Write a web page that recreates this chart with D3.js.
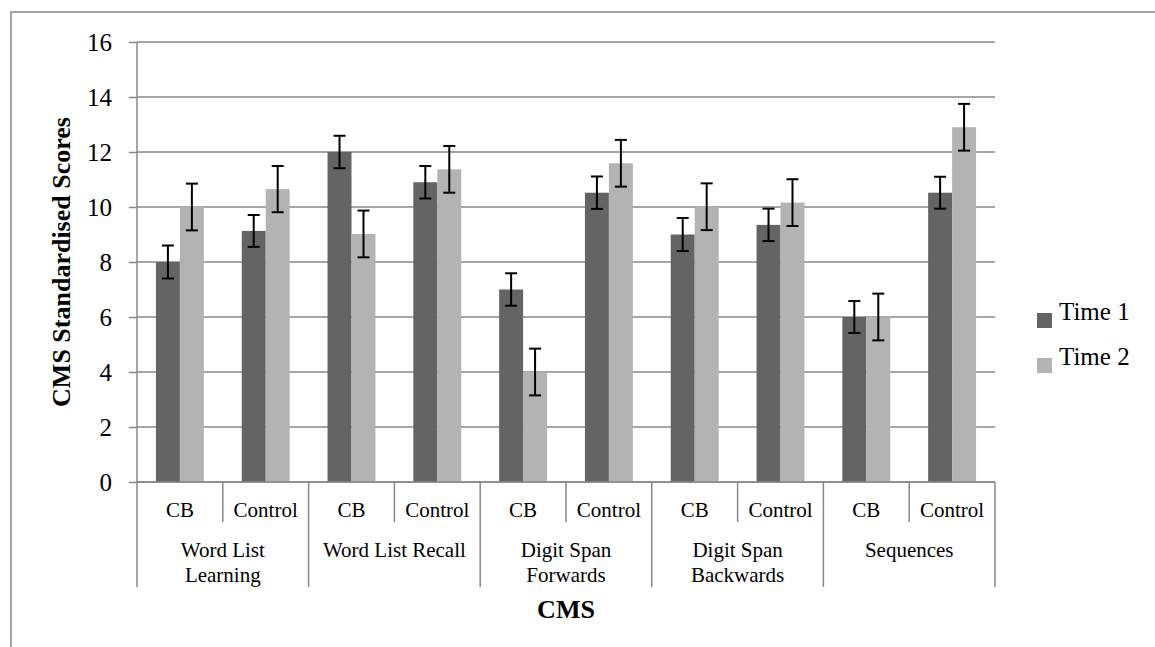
<!DOCTYPE html>
<html>
<head>
<meta charset="utf-8">
<script src="https://cdn.jsdelivr.net/npm/d3@7"></script>
<style>
  body { margin: 0; background: #fff; }
  svg { display: block; font-family: "Liberation Serif", serif; }
</style>
</head>
<body>
<div id="chart"></div>
<script>
// categories
const groupLabels = [["Word List", "Learning"], ["Word List Recall"], ["Digit Span", "Forwards"], ["Digit Span", "Backwards"], ["Sequences"]];
const subLabels = ["CB", "Control"];
const seriesNames = ["Time 1", "Time 2"];

// values (CB, Control for each test)
const time1 = [8.0, 9.13, 12.0, 10.9, 7.0, 10.52, 9.0, 9.35, 6.0, 10.52];
const time2 = [10.0, 10.65, 9.02, 11.37, 4.0, 11.59, 10.01, 10.16, 6.0, 12.9];
const err1 = [0.6, 0.58, 0.59, 0.59, 0.59, 0.59, 0.6, 0.59, 0.58, 0.58];
const err2 = [0.85, 0.84, 0.85, 0.85, 0.85, 0.85, 0.85, 0.85, 0.85, 0.85];

const yTicks = [0, 2, 4, 6, 8, 10, 12, 14, 16];

const colors = {"Time 1": "#646464", "Time 2": "#b3b3b3"};
const gridColor = "#888888";

const W = 1155, H = 647;
const margin = {top: 42, right: 160, bottom: 165, left: 137};

const svg = d3.select("#chart").append("svg")
    .attr("width", W)
    .attr("height", H);

// outer frame (right and bottom run off the page)
svg.append("rect")
    .attr("x", 11).attr("y", 12)
    .attr("width", W + 20).attr("height", H + 20)
    .attr("fill", "none")
    .attr("stroke", gridColor)
    .attr("stroke-width", 1.5);

// one row per sub category
const data = [];
groupLabels.forEach((g, gi) => {
    subLabels.forEach((s, si) => {
        const i = gi * 2 + si;
        data.push({
            idx: i, group: gi, sub: s,
            vals: [
                {name: "Time 1", v: time1[i], e: err1[i]},
                {name: "Time 2", v: time2[i], e: err2[i]}
            ]
        });
    });
});

const x = d3.scaleBand()
    .domain(data.map(d => d.idx))
    .range([margin.left, 995])
    .paddingInner(0)
    .paddingOuter(0);

const x1 = d3.scaleBand()
    .domain(seriesNames)
    .range([0, x.bandwidth()])
    .paddingInner(0)
    .paddingOuter(0.79);

const y = d3.scaleLinear()
    .domain([0, 16])
    .range([482, margin.top]);

// grid lines
svg.append("g")
    .selectAll("line")
    .data(yTicks)
    .join("line")
    .attr("x1", margin.left).attr("x2", 995)
    .attr("y1", d => y(d)).attr("y2", d => y(d))
    .attr("stroke", gridColor)
    .attr("stroke-width", 1.5);

// y axis
const yAxis = d3.axisLeft(y)
    .tickValues(yTicks)
    .tickSize(8)
    .tickPadding(17);

const yg = svg.append("g")
    .attr("transform", "translate(" + margin.left + ",0)")
    .call(yAxis);
yg.selectAll("path, line").attr("stroke", gridColor).attr("stroke-width", 1.5);
yg.select(".domain").attr("d", "M0," + y(0) + "V" + y(16));
yg.selectAll("text")
    .attr("fill", "#000")
    .style("font-family", "Liberation Serif")
    .style("font-size", "25px");

// bars
const cat = svg.append("g")
    .selectAll("g")
    .data(data)
    .join("g")
    .attr("transform", d => "translate(" + x(d.idx) + ",0)");

cat.selectAll("rect")
    .data(d => d.vals)
    .join("rect")
    .attr("x", d => x1(d.name))
    .attr("y", d => y(d.v))
    .attr("width", x1.bandwidth())
    .attr("height", d => y(0) - y(d.v))
    .attr("fill", d => colors[d.name]);

// error bars
const eb = cat.selectAll("g.err")
    .data(d => d.vals)
    .join("g")
    .attr("class", "err")
    .attr("stroke", "#000")
    .attr("stroke-width", 2);

eb.append("line")
    .attr("x1", d => x1(d.name) + x1.bandwidth() / 2)
    .attr("x2", d => x1(d.name) + x1.bandwidth() / 2)
    .attr("y1", d => y(d.v + d.e))
    .attr("y2", d => y(d.v - d.e));
eb.append("line")
    .attr("x1", d => x1(d.name) + x1.bandwidth() / 2 - 6)
    .attr("x2", d => x1(d.name) + x1.bandwidth() / 2 + 6)
    .attr("y1", d => y(d.v + d.e))
    .attr("y2", d => y(d.v + d.e));
eb.append("line")
    .attr("x1", d => x1(d.name) + x1.bandwidth() / 2 - 6)
    .attr("x2", d => x1(d.name) + x1.bandwidth() / 2 + 6)
    .attr("y1", d => y(d.v - d.e))
    .attr("y2", d => y(d.v - d.e));

// x axis line
svg.append("line")
    .attr("x1", margin.left).attr("x2", 995)
    .attr("y1", y(0)).attr("y2", y(0))
    .attr("stroke", gridColor)
    .attr("stroke-width", 1.5);

// category dividers
const edges = d3.range(data.length + 1);
svg.append("g")
    .selectAll("line")
    .data(edges)
    .join("line")
    .attr("x1", i => i < data.length ? x(i) : x(data.length - 1) + x.bandwidth())
    .attr("x2", i => i < data.length ? x(i) : x(data.length - 1) + x.bandwidth())
    .attr("y1", y(0))
    .attr("y2", i => i % 2 === 0 ? 587 : 522)
    .attr("stroke", gridColor)
    .attr("stroke-width", 1.5);

// sub labels
svg.append("g")
    .selectAll("text")
    .data(data)
    .join("text")
    .attr("x", d => x(d.idx) + x.bandwidth() / 2)
    .attr("y", 517)
    .attr("text-anchor", "middle")
    .style("font-size", "21px")
    .text(d => d.sub);

// group labels
const gl = svg.append("g")
    .selectAll("text")
    .data(groupLabels)
    .join("text")
    .attr("x", (d, i) => x(i * 2) + x.bandwidth())
    .attr("y", 557)
    .attr("text-anchor", "middle")
    .style("font-size", "21px");
gl.selectAll("tspan")
    .data(d => d)
    .join("tspan")
    .attr("x", function() { return this.parentNode.getAttribute("x"); })
    .attr("dy", (d, i) => i === 0 ? 0 : 25)
    .text(d => d);

// axis titles
svg.append("text")
    .attr("transform", "translate(70," + (y(8)) + ") rotate(-90)")
    .attr("text-anchor", "middle")
    .style("font-size", "26px")
    .style("font-weight", "bold")
    .text("CMS Standardised Scores");

svg.append("text")
    .attr("x", (margin.left + 995) / 2)
    .attr("y", 618)
    .attr("text-anchor", "middle")
    .style("font-size", "26px")
    .style("font-weight", "bold")
    .text("CMS");

// legend
const legend = svg.append("g")
    .selectAll("g")
    .data(seriesNames)
    .join("g")
    .attr("transform", (d, i) => "translate(1037," + (313 + i * 45) + ")");
legend.append("rect")
    .attr("width", 15).attr("height", 15)
    .attr("fill", d => colors[d]);
legend.append("text")
    .attr("x", 22)
    .attr("y", 7)
    .style("font-size", "25px")
    .text(d => d);
</script>
</body>
</html>
